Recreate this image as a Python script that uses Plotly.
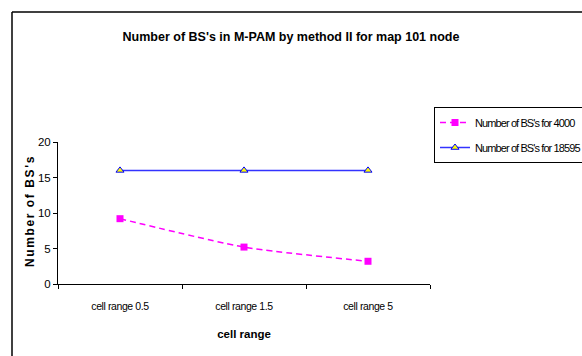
import plotly.graph_objects as go

categories = ["cell range 0.5", "cell range 1.5", "cell range 5"]
bs_4000 = [9.2, 5.2, 3.2]
bs_18595 = [16, 16, 16]
y_ticks = [0, 5, 10, 15, 20]
series_names = ["Number of BS's for 4000", "Number of BS's for 18595"]

FONT = "Liberation Sans, Arial"

def tight(s, sp):
    return '<span style="letter-spacing:%spx">%s</span>' % (sp, s)

fig = go.Figure()
fig.add_trace(go.Scatter(
    x=categories, y=bs_4000, name=tight(series_names[0], -0.9),
    legendgroup="a",
    mode="lines+markers",
    line=dict(color="#FF00FF", width=1.5, dash="6px,4px", shape="spline", smoothing=0.6),
    marker=dict(symbol="square", size=7, color="#FF00FF"),
))
fig.add_trace(go.Scatter(
    x=categories, y=bs_18595, name=tight(series_names[1], -0.9),
    legendgroup="b",
    mode="lines+markers",
    line=dict(color="#3333FF", width=1.5),
    marker=dict(symbol="triangle-up", size=7, color="#FFFF00",
                line=dict(color="#0000FF", width=1)),
))

L, R, T, B = 58, 430, 142, 284
W, H = 582, 356
pw, ph = R - L, B - T

def px(x):
    return (x - L) / pw

def py(y):
    return (B - y) / ph

fig.update_layout(
    width=W, height=H,
    margin=dict(l=L, r=W - R, t=T, b=H - B, autoexpand=False),
    paper_bgcolor="white", plot_bgcolor="white",
    font=dict(family=FONT, size=11, color="black"),
    title=dict(text="<b>Number of BS's in M-PAM by method II for map 101 node</b>",
               x=0.5, xanchor="center", y=1 - 37 / H, yanchor="middle",
               font=dict(family=FONT, size=12.5, color="black")),
    showlegend=True,
    legend=dict(x=px(434), y=py(107), xanchor="left", yanchor="top",
                bordercolor="black", borderwidth=1, bgcolor="white",
                font=dict(family=FONT, size=11, color="black"),
                tracegroupgap=6, itemwidth=30),
    xaxis=dict(type="category", range=[-0.5, 2.5], showline=True, linecolor="black",
               linewidth=1, ticks="outside", ticklen=4, tickcolor="black",
               tickson="boundaries", showgrid=False, zeroline=False,
               tickvals=categories, ticktext=[tight(c, -0.4) for c in categories],
               ticklabelstandoff=12,
               tickfont=dict(family=FONT, size=10.5),
               title=dict(text="<b>cell range</b>", standoff=19,
                          font=dict(family=FONT, size=11.5))),
    yaxis=dict(range=[0, 20], tickvals=y_ticks, showline=True, linecolor="black",
               linewidth=1, ticks="outside", ticklen=4, tickcolor="black",
               showgrid=False, zeroline=False,
               tickfont=dict(family=FONT, size=11.5)),
    annotations=[dict(text="<b>" + tight("Number of BS's", 1.6) + "</b>",
                      xref="paper", yref="paper",
                      x=px(30), y=py(211), xanchor="center", yanchor="middle",
                      textangle=-90, showarrow=False,
                      font=dict(family=FONT, size=12, color="black"))],
    shapes=[
        dict(type="line", xref="paper", yref="paper", x0=px(12), y0=py(12),
             x1=px(600), y1=py(12), line=dict(color="black", width=1.5)),
        dict(type="line", xref="paper", yref="paper", x0=px(12), y0=py(12),
             x1=px(12), y1=py(370), line=dict(color="black", width=1.5)),
    ],
)

fig.write_html("out.html")
